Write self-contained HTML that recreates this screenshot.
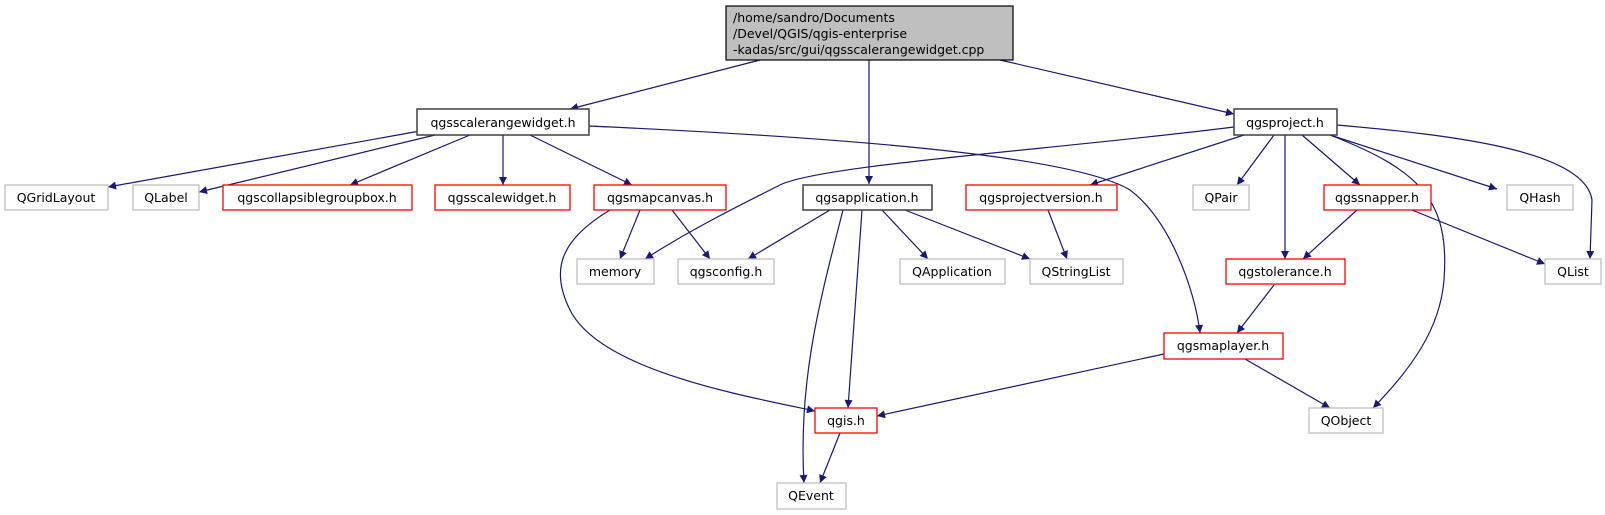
<!DOCTYPE html>
<html><head><meta charset="utf-8"><style>
html,body{margin:0;padding:0;background:#fff;}
svg{display:block;}
text{font-family:"DejaVu Sans","Liberation Sans",sans-serif;font-size:12.5px;fill:#000;text-anchor:middle;}
.e{fill:none;stroke:#191970;stroke-width:1.2;marker-end:url(#a);}
.g{fill:#fff;stroke:#bfbfbf;stroke-width:1.3;}
.r{fill:#fff;stroke:#ff0000;stroke-width:1.3;}
.b{fill:#fff;stroke:#404040;stroke-width:1.5;}
</style></head><body>
<svg width="1605" height="515" viewBox="0 0 1605 515">
<defs><marker id="a" viewBox="0 0 10 10" refX="10" refY="5" markerWidth="10" markerHeight="8" markerUnits="userSpaceOnUse" orient="auto"><path d="M0,0 L10,5 L0,10 z" fill="#191970"/></marker></defs>
<!-- edges -->
<path class="e" d="M760,60 L570,109"/>
<path class="e" d="M1000,60 L1234,114"/>
<path class="e" d="M869,60 L869,184"/>
<path class="e" d="M420,131 L108,187"/>
<path class="e" d="M435,135 L199,192"/>
<path class="e" d="M470,135 L350,185"/>
<path class="e" d="M503,135 L503,185"/>
<path class="e" d="M530,135 L632,185"/>
<path class="e" d="M589,126 C900,140 1080,160 1130,190 C1170,220 1195,290 1200,333"/>
<path class="e" d="M640,210 L620,259"/>
<path class="e" d="M672,210 L710,259"/>
<path class="e" d="M610,210 C560,240 550,270 570,310 C600,370 740,395 815,411"/>
<path class="e" d="M1234,127 C1050,150 820,165 780,185 C740,205 690,230 645,259"/>
<path class="e" d="M1244,135 L1090,185"/>
<path class="e" d="M1274,135 L1237,185"/>
<path class="e" d="M1285,135 L1285,259"/>
<path class="e" d="M1302,135 L1360,185"/>
<path class="e" d="M1330,135 L1497,189"/>
<path class="e" d="M1337,125 C1450,135 1585,150 1592,200 L1590,259"/>
<path class="e" d="M1330,135 C1420,170 1450,200 1444,280 C1440,330 1410,370 1373,408"/>
<path class="e" d="M1048,210 L1067,259"/>
<path class="e" d="M830,210 L748,259"/>
<path class="e" d="M882,210 L928,259"/>
<path class="e" d="M905,210 L1030,259"/>
<path class="e" d="M843,210 C820,300 798,380 804,483"/>
<path class="e" d="M862,210 L848,408"/>
<path class="e" d="M1357,210 L1303,259"/>
<path class="e" d="M1412,210 L1545,264"/>
<path class="e" d="M1274,285 L1237,333"/>
<path class="e" d="M1164,354 L877,416"/>
<path class="e" d="M1245,359 L1330,408"/>
<path class="e" d="M840,433 L820,483"/>
<!-- nodes -->
<rect x="726" y="6" width="287" height="54" fill="#bfbfbf" stroke="#000" stroke-width="1.2"/>
<text x="733" y="22" style="text-anchor:start">/home/sandro/Documents</text>
<text x="733" y="38" style="text-anchor:start">/Devel/QGIS/qgis-enterprise</text>
<text x="733" y="54" style="text-anchor:start">-kadas/src/gui/qgsscalerangewidget.cpp</text>

<rect class="b" x="417" y="109" width="172" height="26"/><text x="503" y="127">qgsscalerangewidget.h</text>
<rect class="b" x="1234" y="109" width="103" height="26"/><text x="1285" y="127">qgsproject.h</text>

<rect class="g" x="5" y="185" width="103" height="25"/><text x="56" y="202">QGridLayout</text>
<rect class="g" x="133" y="185" width="66" height="25"/><text x="166" y="202">QLabel</text>
<rect class="r" x="223" y="185" width="189" height="25"/><text x="317" y="202">qgscollapsiblegroupbox.h</text>
<rect class="r" x="435" y="185" width="135" height="25"/><text x="502" y="202">qgsscalewidget.h</text>
<rect class="r" x="594" y="185" width="132" height="25"/><text x="660" y="202">qgsmapcanvas.h</text>
<rect class="b" x="803" y="185" width="129" height="25"/><text x="867" y="202">qgsapplication.h</text>
<rect class="r" x="966" y="185" width="151" height="25"/><text x="1041" y="202">qgsprojectversion.h</text>
<rect class="g" x="1193" y="185" width="56" height="25"/><text x="1221" y="202">QPair</text>
<rect class="r" x="1324" y="185" width="107" height="25"/><text x="1377" y="202">qgssnapper.h</text>
<rect class="g" x="1507" y="185" width="66" height="25"/><text x="1540" y="202">QHash</text>

<rect class="g" x="577" y="259" width="77" height="25"/><text x="615" y="276">memory</text>
<rect class="g" x="678" y="259" width="96" height="25"/><text x="726" y="276">qgsconfig.h</text>
<rect class="g" x="900" y="259" width="105" height="25"/><text x="952" y="276">QApplication</text>
<rect class="g" x="1030" y="259" width="93" height="25"/><text x="1076" y="276">QStringList</text>
<rect class="r" x="1226" y="259" width="119" height="25"/><text x="1285" y="276">qgstolerance.h</text>
<rect class="g" x="1545" y="259" width="56" height="25"/><text x="1573" y="276">QList</text>

<rect class="r" x="1164" y="333" width="119" height="26"/><text x="1223" y="350">qgsmaplayer.h</text>
<rect class="r" x="815" y="408" width="62" height="25"/><text x="846" y="425">qgis.h</text>
<rect class="g" x="1309" y="408" width="74" height="25"/><text x="1346" y="425">QObject</text>
<rect class="g" x="777" y="483" width="69" height="26"/><text x="811" y="500">QEvent</text>
</svg>
</body></html>
